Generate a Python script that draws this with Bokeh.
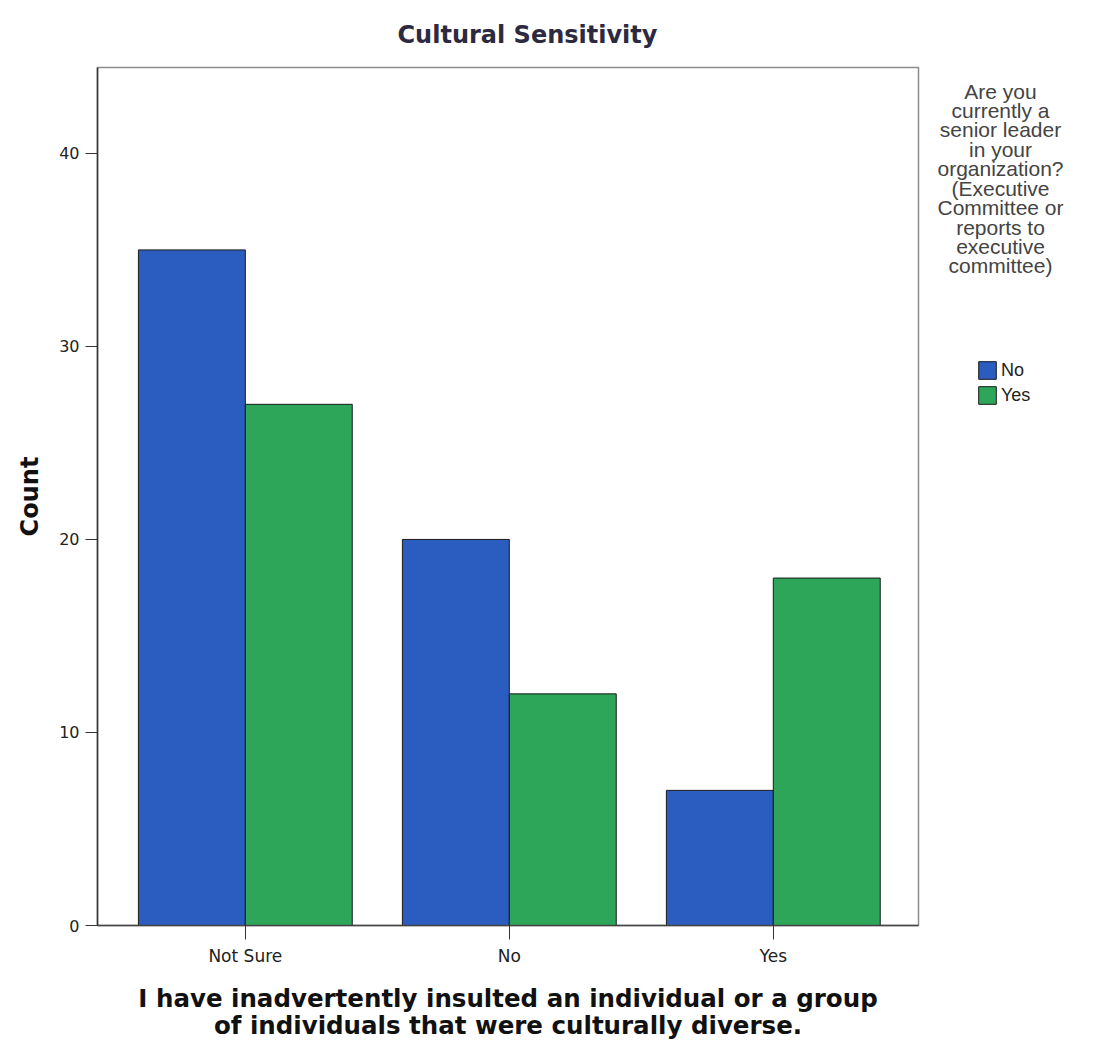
from bokeh.plotting import figure
from bokeh.layouts import row
from bokeh.models import Range1d, FixedTicker, Label, Legend, LegendItem
from bokeh.embed import file_html
from bokeh.resources import INLINE

categories = ["Not Sure", "No", "Yes"]
series_names = ["No", "Yes"]
counts_no = [35, 20, 7]
counts_yes = [27, 12, 18]
series_colors = ["#2b5cbf", "#2ea65a"]
y_ticks = [0, 10, 20, 30, 40]
legend_title = "Are you\ncurrently a\nsenior leader\nin your\norganization?\n(Executive\nCommittee or\nreports to\nexecutive\ncommittee)"
x_title = "I have inadvertently insulted an individual or a group\nof individuals that were culturally diverse."

centers = [i + 0.5 for i in range(len(categories))]
bar_w = 0.405
x_no = [c - bar_w / 2 for c in centers]
x_yes = [c + bar_w / 2 for c in centers]

FRAME_TOP, FRAME_H, BOTTOM = 67, 858, 105

p = figure(frame_width=821, frame_height=FRAME_H, output_backend="svg", toolbar_location=None,
           x_range=Range1d(-0.06, 3.05), y_range=Range1d(0, 44.45),
           min_border_left=97, min_border_right=4, min_border_top=FRAME_TOP,
           min_border_bottom=BOTTOM)
p.background_fill_color = "white"
p.border_fill_color = "white"
p.outline_line_color = "#8c8c8c"
p.outline_line_width = 1.5
p.xgrid.visible = False
p.ygrid.visible = False

r_no = p.vbar(x=x_no, top=counts_no, bottom=0, width=bar_w,
              fill_color=series_colors[0], line_color="#1a1a1a", line_width=1)
r_yes = p.vbar(x=x_yes, top=counts_yes, bottom=0, width=bar_w,
               fill_color=series_colors[1], line_color="#1a1a1a", line_width=1)

# title
p.title.text = "Cultural Sensitivity"
p.title.align = "left"
p.title.offset = 300
p.title.standoff = 37
p.title.text_font = "DejaVu Sans"
p.title.text_font_size = "24px"
p.title.text_font_style = "bold"
p.title.text_color = "#2c2a40"
p.title.text_line_height = 0.8

# x axis
xa = p.xaxis[0]
xa.ticker = FixedTicker(ticks=centers)
xa.major_label_overrides = {c: n for c, n in zip(centers, categories)}
xa.minor_tick_line_color = None
xa.major_tick_out = 14
xa.major_tick_in = 0
xa.major_tick_line_color = "#333333"
xa.axis_line_color = "#444444"
xa.axis_line_width = 1.5
xa.major_label_text_font = "DejaVu Sans"
xa.major_label_text_font_size = "17px"
xa.major_label_text_color = "#222222"
xa.major_label_standoff = 6
xa.axis_label = x_title
xa.axis_label_text_font = "DejaVu Sans"
xa.axis_label_text_font_size = "24.5px"
xa.axis_label_text_font_style = "bold"
xa.axis_label_text_color = "#111111"
xa.axis_label_text_line_height = 0.95
xa.axis_label_standoff = 15

# y axis
ya = p.yaxis[0]
ya.ticker = FixedTicker(ticks=y_ticks)
ya.minor_tick_line_color = None
ya.major_tick_out = 12
ya.major_tick_in = 0
ya.major_tick_line_color = "#333333"
ya.axis_line_color = "#333333"
ya.axis_line_width = 1.5
ya.major_label_text_font = "DejaVu Sans"
ya.major_label_text_font_size = "16px"
ya.major_label_text_color = "#222222"
ya.major_label_standoff = 6
ya.axis_label = "Count"
ya.axis_label_text_font = "DejaVu Sans"
ya.axis_label_text_font_size = "24px"
ya.axis_label_text_font_style = "bold"
ya.axis_label_text_color = "#111111"
ya.axis_label_standoff = 12

# legend panel: a second figure whose frame lines up with the main frame
leg_w = 155
p2 = figure(frame_width=leg_w, frame_height=FRAME_H, output_backend="svg", toolbar_location=None,
            x_range=Range1d(0, leg_w), y_range=Range1d(FRAME_TOP + FRAME_H, FRAME_TOP),
            min_border_left=0, min_border_right=0, min_border_top=FRAME_TOP,
            min_border_bottom=BOTTOM)
p2.axis.visible = False
p2.grid.visible = False
p2.outline_line_color = None
p2.background_fill_color = "white"
p2.border_fill_color = "white"

lt = Label(x=78, y=79, text=legend_title,
           text_align="center", text_baseline="top", text_font="Liberation Sans",
           text_font_size="21px", text_color="#444444", text_line_height=0.845)
p2.add_layout(lt)

# hidden copies of the bar series, used only for the legend swatches
k_no = p2.vbar(x=x_no, top=counts_no, width=bar_w, fill_color=series_colors[0],
               line_color="#1a1a1a", visible=False)
k_yes = p2.vbar(x=x_yes, top=counts_yes, width=bar_w, fill_color=series_colors[1],
                line_color="#1a1a1a", visible=False)

legend = Legend(items=[LegendItem(label=series_names[0], renderers=[k_no]),
                       LegendItem(label=series_names[1], renderers=[k_yes])],
                location=(54, 519), orientation="vertical")
legend.glyph_width = 22
legend.glyph_height = 22
legend.label_height = 22
legend.spacing = 3
legend.padding = 0
legend.margin = 0
legend.label_standoff = 3
legend.label_text_font = "Liberation Sans"
legend.label_text_font_size = "18px"
legend.label_text_color = "#222222"
legend.border_line_color = None
legend.background_fill_alpha = 0
legend.click_policy = "none"
p2.add_layout(legend)

layout = row(p, p2, spacing=0)
open("out.html", "w").write(file_html(layout, INLINE))
